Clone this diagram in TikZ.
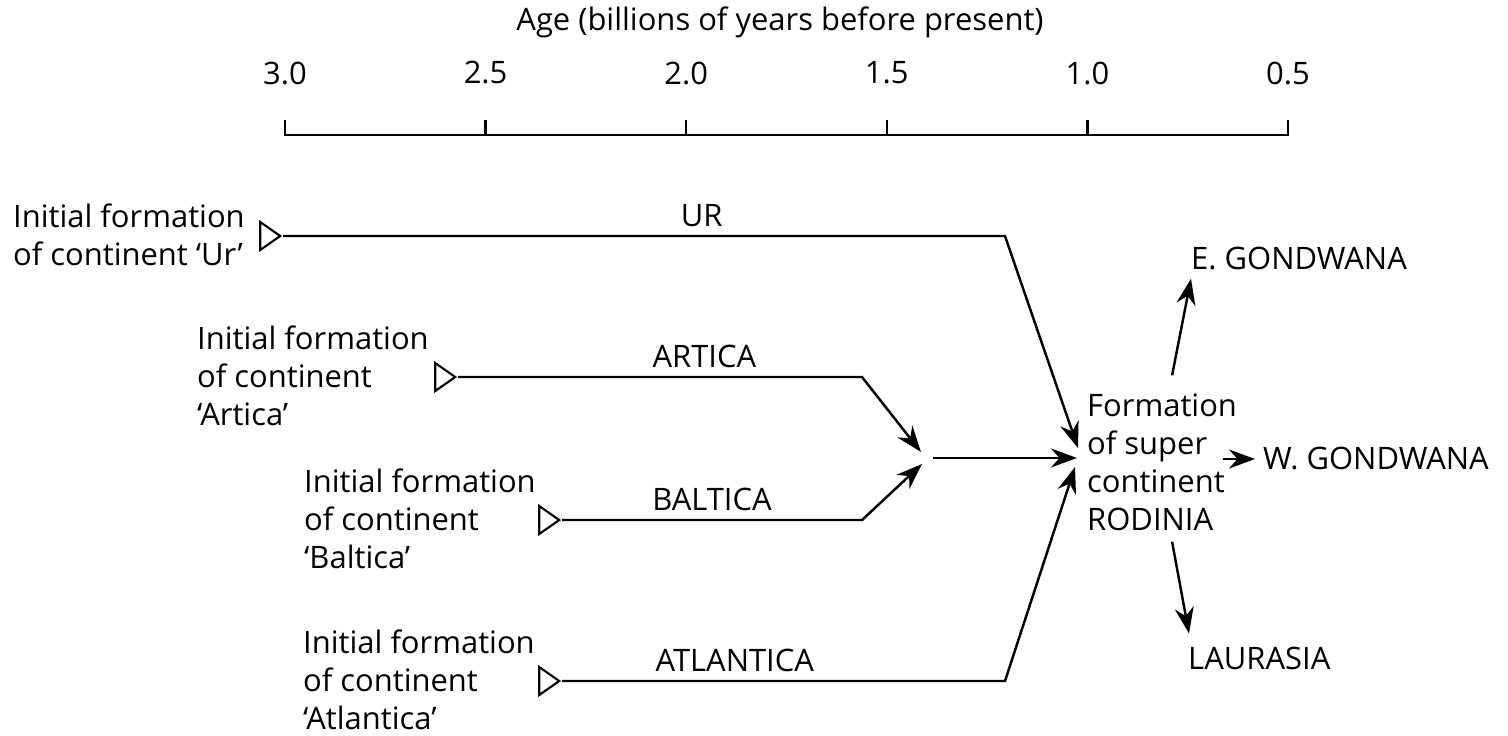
\documentclass[tikz,border=0pt]{standalone}
\usepackage{fontspec}
\setmainfont{Open Sans}
\usetikzlibrary{arrows.meta,calc,positioning,shapes.geometric}

\begin{document}
\begin{tikzpicture}[x=0.01cm,y=-0.01cm,>={Stealth[length=2.6mm,width=1.9mm]},
    line width=0.7pt,font=\fontsize{8.8pt}{10.8pt}\selectfont]
%   Ur        |>------------------\
%   Artica    |>-------\           \
%                       >---------> Rodinia --> E. / W. Gondwana, Laurasia
%   Baltica   |>-------/           /
%   Atlantica |>------------------/
    \tikzstyle{every node}=[inner sep=0pt]
    \tikzstyle{origin}=[draw,fill=white,isosceles triangle,isosceles triangle stretches,
        minimum width=0.28cm,minimum height=0.2cm,line width=0.6pt,anchor=apex]
    \tikzstyle{lbl}=[anchor=west,align=left]
    \tikzstyle{plate}=[above=0.8mm]
    \useasboundingbox (0,0) rectangle (1508,735);

    % time axis
    \node (title) at (780,22) {Age (billions of years before present)};
    \foreach \v [count=\i from 0] in {3.0,2.5,2.0,1.5,1.0,0.5}
        \node (tick\i) at ({285+200.6*\i},73) {\v};
    \draw (285,120) -- (285,135) -- (1288,135) -- (1288,120);
    \foreach \i in {1,...,4}
        \draw ({285+200.6*\i},120) -- ({285+200.6*\i},135);

    % starting continents
    \node[lbl] (lUr) at (12,235) {Initial formation\\of continent ‘Ur’};
    \node[lbl] (lAr) at (196,376) {Initial formation\\of continent\\‘Artica’};
    \node[lbl] (lBa) at (303,519) {Initial formation\\of continent\\‘Baltica’};
    \node[lbl] (lAt) at (302,680) {Initial formation\\of continent\\‘Atlantica’};

    \node[origin] (ur) at (283,236) {};
    \node[origin] (artica) at (458,377) {};
    \node[origin] (baltica) at (562,520) {};
    \node[origin] (atlantica) at (562,681) {};

    % supercontinent and its pieces
    \node[lbl] (rodinia) at (1086,462) {Formation\\of super\\continent\\RODINIA};
    \node[lbl] (egond) at (1190,258) {E. GONDWANA};
    \node[lbl] (wgond) at (1262,458) {W. GONDWANA};
    \node[lbl] (laurasia) at (1187,658) {LAURASIA};

    \coordinate (bUr) at (1005,236);
    \coordinate (bAr) at (862,377);
    \coordinate (bBa) at (862,520);
    \coordinate (bAt) at (1005,681);
    \coordinate (jn) at (925,458);

    \draw[->] (ur.apex) -- node[plate,pos=0.58] {UR} (bUr) -- ($(rodinia.west)+(-8,-14)$);
    \draw[->] (artica.apex) -- node[plate,pos=0.61] {ARTICA} (bAr) -- ($(jn)+(-4,-6)$);
    \draw[->] (baltica.apex) -- node[plate,pos=0.5] {BALTICA} (bBa) -- ($(jn)+(-3,6)$);
    \draw[->] (atlantica.apex) -- node[plate,pos=0.39] {ATLANTICA} (bAt) -- ($(rodinia.west)+(-11,5)$);
    \draw[->] ($(jn)+(8,0)$) -- ($(rodinia.west)+(-9,-4)$);

    \draw[->] ($(rodinia.north)+(10,-17)$) -- ($(egond.south west)+(1,8)$);
    \draw[->] ($(rodinia.east)+(-15,-3)$) -- ($(wgond.west)+(-7,1)$);
    \draw[->] ($(rodinia.south)+(10,10)$) -- ($(laurasia.north west)+(2,-12)$);
\end{tikzpicture}
\end{document}
